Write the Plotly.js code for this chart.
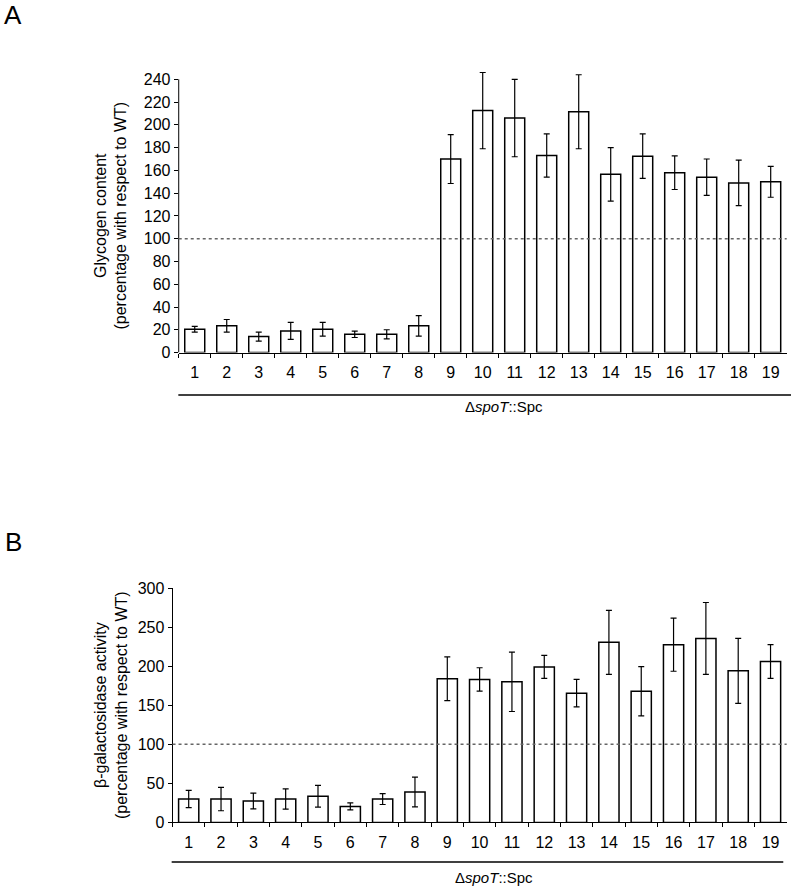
<!DOCTYPE html>
<html>
<head>
<meta charset="utf-8">
<script src="https://cdn.plot.ly/plotly-3.0.1.min.js"></script>
<style>html,body{margin:0;padding:0;background:#fff;}#chart{width:794px;height:888px;}</style>
</head>
<body>
<div id="chart"></div>
<script>
// ---- data ----
var strains = ['1','2','3','4','5','6','7','8','9','10','11','12','13','14','15','16','17','18','19'];
var glycogen = [20.5, 23.5, 14, 19, 20.5, 16, 16, 23.5, 170, 212.5, 206, 173, 211.5, 156.5, 172.5, 158, 154, 149, 150];
var glycogenErr = [2.5, 5.5, 4, 7.5, 6, 2.8, 4, 9, 21.5, 33.5, 34, 19, 32.5, 23.5, 19.5, 14.8, 16, 20, 13.6];
var galactosidase = [30, 30, 27.5, 30, 33.5, 20.5, 30, 39, 184, 183, 180, 199, 165.5, 230.5, 168, 227.5, 235.5, 194, 206];
var galactosidaseErr = [11, 15, 10, 13, 14, 4.5, 7, 19, 28, 15, 38, 14.7, 17.5, 41, 31.5, 34, 46, 41.5, 21.5];
var wtLevel = 100;
var yTicksA = [0,20,40,60,80,100,120,140,160,180,200,220,240];
var yTicksB = [0,50,100,150,200,250,300];
var yMaxA = 240;

var FONT = 'Liberation Sans, Arial, Helvetica, sans-serif';

function barTrace(y, err, xa, ya) {
  return {
    type: 'bar', x: strains, y: y, xaxis: xa, yaxis: ya, cliponaxis: false,
    marker: {color: '#ffffff', line: {color: '#000000', width: 1.5}},
    error_y: {type: 'data', array: err, visible: true, color: '#000000', thickness: 1.2, width: 3},
    hoverinfo: 'skip', showlegend: false
  };
}

var data = [
  barTrace(glycogen, glycogenErr, 'x', 'y'),
  barTrace(galactosidase, galactosidaseErr, 'x2', 'y2')
];

var xCommon = {
  type: 'category', showgrid: false, zeroline: false, showline: true, linecolor: '#000', linewidth: 1,
  ticks: 'outside', tickson: 'boundaries', ticklen: 4, tickcolor: '#000', tickwidth: 1,
  tickfont: {family: FONT, size: 16, color: '#000'}, ticklabelstandoff: 5, fixedrange: true
};
var yCommon = {
  showgrid: false, zeroline: false, showline: true, linecolor: '#000', linewidth: 1,
  ticks: 'outside', ticklen: 4, tickcolor: '#000', tickwidth: 1,
  tickfont: {family: FONT, size: 16, color: '#000'}, fixedrange: true
};

var layout = {
  width: 794, height: 888,
  margin: {l: 0, r: 0, t: 0, b: 0},
  paper_bgcolor: '#fff', plot_bgcolor: '#fff',
  font: {family: FONT, color: '#000'},
  bargap: 0.375,
  xaxis: Object.assign({}, xCommon, {domain: [0.2251, 0.9908], anchor: 'y'}),
  yaxis: Object.assign({}, yCommon, {domain: [0.6030, 0.9235], range: [0, 250], tickvals: yTicksA, anchor: 'x', showline: false}),
  xaxis2: Object.assign({}, xCommon, {domain: [0.2173, 0.9908], anchor: 'y2'}),
  yaxis2: Object.assign({}, yCommon, {domain: [0.0738, 0.3378], range: [0, 300], tickvals: yTicksB, anchor: 'x2'}),
  shapes: [
    {type: 'line', xref: 'x domain', yref: 'y', x0: 0, x1: 0, y0: 0, y1: yMaxA, layer: 'above',
     line: {color: '#000', width: 1}},
    {type: 'line', xref: 'x domain', yref: 'y', x0: 0, x1: 1, y0: wtLevel, y1: wtLevel, layer: 'above',
     line: {color: '#666', width: 1.5, dash: 'dot'}},
    {type: 'line', xref: 'x2 domain', yref: 'y2', x0: 0, x1: 1, y0: wtLevel, y1: wtLevel, layer: 'above',
     line: {color: '#666', width: 1.5, dash: 'dot'}},
    {type: 'line', xref: 'paper', yref: 'paper', x0: 0.2246, x1: 0.9962, y0: 0.5552, y1: 0.5552,
     line: {color: '#000', width: 1.5}},
    {type: 'line', xref: 'paper', yref: 'paper', x0: 0.2162, x1: 0.9865, y0: 0.0293, y1: 0.0293,
     line: {color: '#000', width: 1.5}}
  ],
  annotations: [
    {text: 'A', xref: 'paper', yref: 'paper', x: 0.0165, y: 1 - 15/888, xanchor: 'center', yanchor: 'middle',
     showarrow: false, font: {family: FONT, size: 26, color: '#000'}},
    {text: 'B', xref: 'paper', yref: 'paper', x: 0.0165, y: 1 - 542/888, xanchor: 'center', yanchor: 'middle',
     showarrow: false, font: {family: FONT, size: 26, color: '#000'}},
    {text: 'Glycogen content<br>(percentage with respect to WT)', xref: 'paper', yref: 'paper',
     x: 111/794, y: 1 - 215.5/888, xanchor: 'center', yanchor: 'middle', textangle: -90,
     showarrow: false, font: {family: FONT, size: 16, color: '#000'}},
    {text: '\u03b2-galactosidase activity<br>(percentage with respect to WT)', xref: 'paper', yref: 'paper',
     x: 111/794, y: 1 - 705/888, xanchor: 'center', yanchor: 'middle', textangle: -90,
     showarrow: false, font: {family: FONT, size: 16, color: '#000'}},
    {text: '\u0394<i>spoT</i>::Spc', xref: 'paper', yref: 'paper', x: 463/794, y: 1 - 407/888,
     xanchor: 'left', yanchor: 'middle', showarrow: false, font: {family: FONT, size: 15, color: '#000'}},
    {text: '\u0394<i>spoT</i>::Spc', xref: 'paper', yref: 'paper', x: 453/794, y: 1 - 877/888,
     xanchor: 'left', yanchor: 'middle', showarrow: false, font: {family: FONT, size: 15, color: '#000'}}
  ]
};

Plotly.newPlot('chart', data, layout, {displayModeBar: false, staticPlot: true});
</script>
</body>
</html>
